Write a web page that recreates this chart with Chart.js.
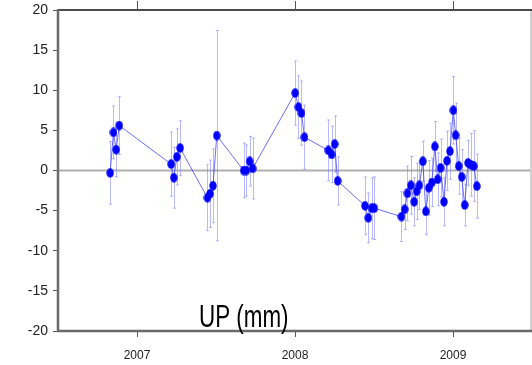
<!DOCTYPE html>
<html>
<head>
<meta charset="utf-8">
<script src="https://cdn.jsdelivr.net/npm/chart.js@4.4.0/dist/chart.umd.min.js"></script>
<style>
  html,body{margin:0;padding:0;background:#fff;overflow:hidden;}
  #wrap{width:532px;height:365px;position:relative;}
  #c{display:block;}
</style>
</head>
<body>
<div id="wrap"><canvas id="c" width="532" height="365"></canvas></div>
<script>
// decimal years
const times = [2006.830,2006.851,2006.868,2006.888,2007.216,2007.233,2007.252,2007.273,
  2007.446,2007.462,2007.481,2007.505,2007.675,2007.692,2007.713,2007.732,
  2008.001,2008.022,2008.041,2008.060,2008.211,2008.232,2008.251,2008.270,
  2008.443,2008.464,2008.485,2008.502,2008.674,2008.694,2008.712,2008.733,
  2008.754,2008.770,2008.787,2008.809,2008.828,2008.847,2008.866,2008.885,
  2008.903,2008.922,2008.943,2008.962,2008.981,2009.002,2009.017,2009.036,
  2009.055,2009.074,2009.095,2009.114,2009.132,2009.151];
// UP in mm
const upValues = [-0.3,4.75,2.6,5.6,0.8,-0.9,1.7,2.8,
  -3.4,-2.9,-1.9,4.35,0.0,0.0,1.15,0.25,
  9.65,7.9,7.15,4.15,2.5,2.0,3.3,-1.3,
  -4.4,-5.9,-4.7,-4.7,-5.75,-4.85,-2.85,-1.85,
  -3.9,-2.6,-1.85,1.15,-5.1,-2.15,-1.5,3.0,
  -1.1,0.33,-3.9,1.2,2.4,7.5,4.4,0.55,
  -0.8,-4.3,0.95,0.7,0.55,-1.95];
const upErrors = [3.9,3.3,3.4,3.6,4.0,3.8,3.5,3.4,
  4.1,4.2,4.6,13.1,3.4,3.2,3.1,3.8,
  4.0,3.9,4.0,4.0,3.8,3.5,3.5,3.0,
  3.6,3.1,3.8,3.9,3.1,2.5,3.4,3.6,
  3.0,3.5,3.0,2.5,2.9,3.4,3.0,3.1,
  3.3,3.6,3.0,3.7,3.5,4.2,4.0,3.5,
  3.4,2.6,2.8,3.9,4.4,4.0];
const yearTicks = [2007,2008,2009];
const yTicks = [-20,-15,-10,-5,0,5,10,15,20];
const title = 'UP (mm)';

// slightly tall dot, like the squeezed original
const dot = document.createElement('canvas');
dot.width = 8; dot.height = 10;
(function(){
  const g = dot.getContext('2d');
  g.fillStyle = '#0000ff';
  g.beginPath(); g.ellipse(4,5,3.7,4.7,0,0,Math.PI*2); g.fill();
})();

const framePlugin = {
  id:'frame',
  beforeDatasetsDraw(chart){
    const {ctx, chartArea:a, scales:{x,y}} = chart;
    ctx.save();
    // zero line
    ctx.strokeStyle = '#b0b0b0'; ctx.lineWidth = 2;
    const y0 = y.getPixelForValue(0);
    ctx.beginPath(); ctx.moveTo(a.left, y0); ctx.lineTo(a.right, y0); ctx.stroke();
    // error bars
    ctx.strokeStyle = 'rgba(100,100,255,0.45)'; ctx.lineWidth = 1;
    times.forEach((t,i)=>{
      const px = Math.round(x.getPixelForValue(t))+0.5;
      const top = y.getPixelForValue(upValues[i]+upErrors[i]);
      const bot = y.getPixelForValue(upValues[i]-upErrors[i]);
      ctx.beginPath();
      ctx.moveTo(px, top); ctx.lineTo(px, bot);
      ctx.moveTo(px-1.5, top); ctx.lineTo(px+1.5, top);
      ctx.moveTo(px-1.5, bot); ctx.lineTo(px+1.5, bot);
      ctx.stroke();
    });
    ctx.restore();
  },
  afterDraw(chart){
    const {ctx, chartArea:a, scales:{x}} = chart;
    ctx.save();
    // right edge
    ctx.strokeStyle = '#d0d0d0'; ctx.lineWidth = 2;
    ctx.beginPath(); ctx.moveTo(a.right-1, a.top); ctx.lineTo(a.right-1, a.bottom); ctx.stroke();
    // top border + ticks
    ctx.strokeStyle = '#111'; ctx.lineWidth = 1.5;
    ctx.beginPath(); ctx.moveTo(a.left, a.top); ctx.lineTo(a.right, a.top); ctx.stroke();
    ctx.strokeStyle = '#555'; ctx.lineWidth = 1;
    yearTicks.forEach(v=>{
      const px = Math.round(x.getPixelForValue(v))+0.5;
      ctx.beginPath(); ctx.moveTo(px, a.top-9); ctx.lineTo(px, a.top); ctx.stroke();
    });
    // left & bottom axes
    ctx.strokeStyle = '#6a6a6a'; ctx.lineWidth = 2.5;
    ctx.beginPath();
    ctx.moveTo(a.left, a.top-1); ctx.lineTo(a.left, a.bottom); ctx.lineTo(a.right, a.bottom);
    ctx.stroke();
    // title inside plot, horizontally squeezed
    ctx.fillStyle = '#000';
    ctx.font = '32px "Liberation Sans", Arial, sans-serif';
    ctx.textBaseline = 'alphabetic';
    ctx.translate(199, 327);
    ctx.scale(0.7, 1);
    ctx.fillText(title, 0, 0);
    ctx.restore();
  }
};

new Chart(document.getElementById('c'), {
  type:'scatter',
  data:{ datasets:[{
    data: times.map((t,i)=>({x:t, y:upValues[i]})),
    showLine:true,
    borderColor:'rgba(60,60,255,0.75)',
    borderWidth:1,
    pointStyle: dot,
    pointRadius:4,
    pointHoverRadius:4
  }]},
  options:{
    responsive:false,
    animation:false,
    events:[],
    layout:{ autoPadding:false, padding:{ top:10, right:0, left:0, bottom:0 } },
    plugins:{ legend:{display:false}, tooltip:{enabled:false} },
    scales:{
      x:{
        type:'linear', min:2006.5, max:2009.5,
        afterBuildTicks(s){ s.ticks = yearTicks.map(v=>({value:v})); },
        afterFit(s){ s.height = 34; s.paddingLeft = 0; s.paddingRight = 0; },
        border:{display:false},
        grid:{ drawOnChartArea:false, tickLength:6, color:'#555', tickWidth:1 },
        ticks:{ padding:11, color:'#222', font:{ family:'"Liberation Sans", Arial', size:12 },
          callback:v=>String(v) }
      },
      y:{
        min:-20, max:20,
        afterBuildTicks(s){ s.ticks = yTicks.map(v=>({value:v})); },
        afterFit(s){ s.width = 58; s.paddingTop = 0; s.paddingBottom = 0; },
        border:{display:false},
        grid:{ drawOnChartArea:false, tickLength:5, color:'#555', tickWidth:1 },
        ticks:{ padding:5, color:'#222', font:{ family:'"Liberation Sans", Arial', size:14 } }
      }
    }
  },
  plugins:[framePlugin]
});
</script>
</body>
</html>
